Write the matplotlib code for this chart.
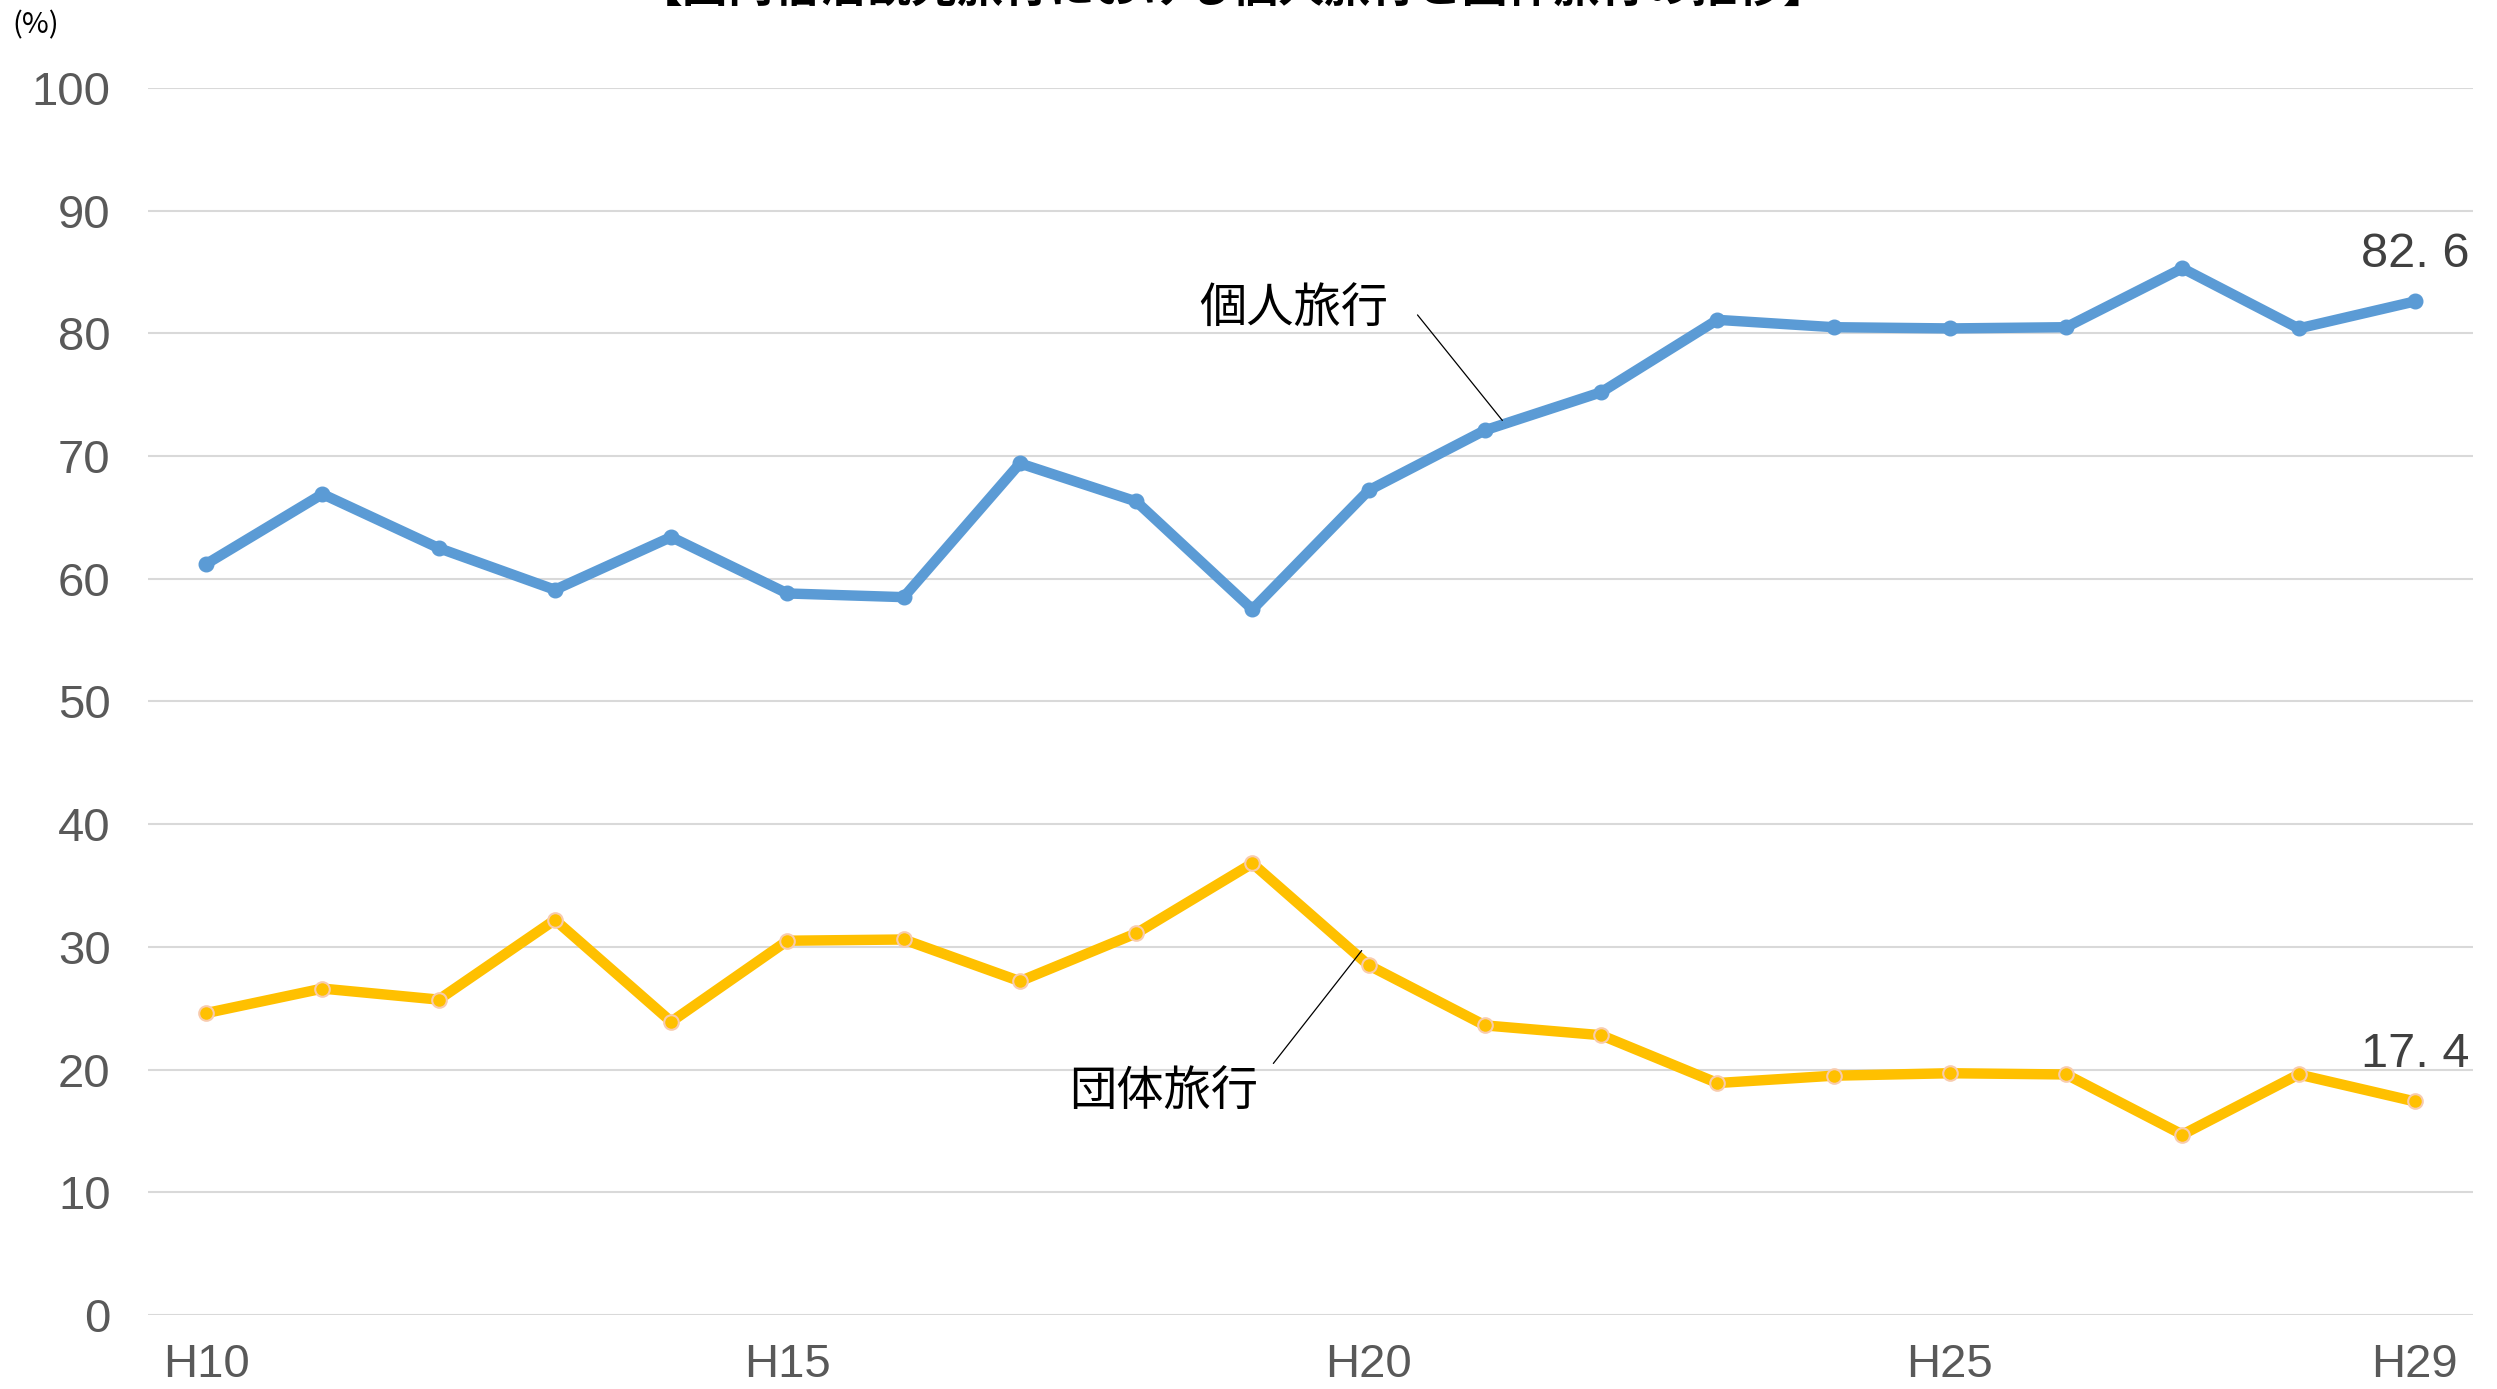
"""
国内宿泊観光旅行における個人旅行と団体旅行の推移 (H10-H29).
Writes out.png.
"""
import matplotlib
matplotlib.use("Agg")
import matplotlib.pyplot as plt

plt.rcParams["font.family"] = ["Noto Sans CJK JP", "DejaVu Sans"]

years = ["H10", "H11", "H12", "H13", "H14", "H15", "H16", "H17", "H18", "H19",
         "H20", "H21", "H22", "H23", "H24", "H25", "H26", "H27", "H28", "H29"]
kojin = [61.2, 66.9, 62.5, 59.1, 63.4, 58.8, 58.5, 69.4, 66.3, 57.5,
         67.2, 72.1, 75.2, 81.1, 80.5, 80.4, 80.5, 85.3, 80.4, 82.6]
dantai = [24.6, 26.6, 25.7, 32.2, 23.9, 30.5, 30.6, 27.2, 31.1, 36.8,
          28.5, 23.6, 22.8, 18.9, 19.5, 19.7, 19.6, 14.7, 19.6, 17.4]
shown_ticks = ["H10", "H15", "H20", "H25", "H29"]

NUM_FONT = ["Liberation Sans", "DejaVu Sans"]
GRAY = "#595959"
BLUE = "#5B9BD5"
YELLOW = "#FFC000"

fig = plt.figure(figsize=(24.97, 13.89), dpi=100)
ax = fig.add_axes([0.0593, 0.0533, 0.9311, 0.8834])

xs = list(range(len(years)))
ax.plot(xs, kojin, color=BLUE, lw=7.5, marker="o", ms=10.5, mfc=BLUE, mec=BLUE,
        solid_joinstyle="round", zorder=3)
ax.plot(xs, dantai, color=YELLOW, lw=7.5, marker="o", ms=10.5, mfc=YELLOW,
        mec="#F8CBAD", mew=1.5, solid_joinstyle="round", zorder=3)

ax.set_xlim(-0.5, len(years) - 0.5)
ax.set_ylim(0, 100)
ax.set_yticks(range(0, 101, 10))
ax.set_xticks([years.index(t) for t in shown_ticks])
ax.set_xticklabels(shown_ticks)
ax.grid(axis="y", color="#D9D9D9", lw=1.5)
ax.set_axisbelow(True)
for s in ax.spines.values():
    s.set_visible(False)
ax.tick_params(length=0)
ax.tick_params(axis="y", pad=27)
ax.tick_params(axis="x", pad=20)
for lab in ax.get_yticklabels() + ax.get_xticklabels():
    lab.set_family(NUM_FONT)
    lab.set_fontsize(34)
    lab.set_color(GRAY)

# end value labels
for vals in (kojin, dantai):
    v = vals[-1]
    ax.annotate(f"{int(v)}. {round(v * 10) % 10}", xy=(xs[-1], v),
                xytext=(0, 34), textcoords="offset points", ha="center",
                va="center", fontsize=35, color="#404040", family=NUM_FONT)

# series labels with leader lines
ax.text(10.17, 81.9, "個人旅行", ha="right", va="center", fontsize=34, color="black")
ax.annotate("", xy=(11.15, 72.9), xytext=(10.42, 81.5),
            arrowprops=dict(arrowstyle="-", color="black", lw=0.9,
                            shrinkA=0, shrinkB=0))
ax.text(9.05, 18.1, "団体旅行", ha="right", va="center", fontsize=34, color="black")
ax.annotate("", xy=(9.94, 29.7), xytext=(9.18, 20.5),
            arrowprops=dict(arrowstyle="-", color="black", lw=0.9,
                            shrinkA=0, shrinkB=0))

fig.text(0.0048, 0.982, "(%)", ha="left", va="center", fontsize=21, color="black")
fig.text(0.494, 1 - 12 / 1389, "【国内宿泊観光旅行における個人旅行と団体旅行の推移】",
         ha="center", va="bottom", fontsize=33, fontweight="bold", color="black")

fig.savefig("out.png", dpi=100)
